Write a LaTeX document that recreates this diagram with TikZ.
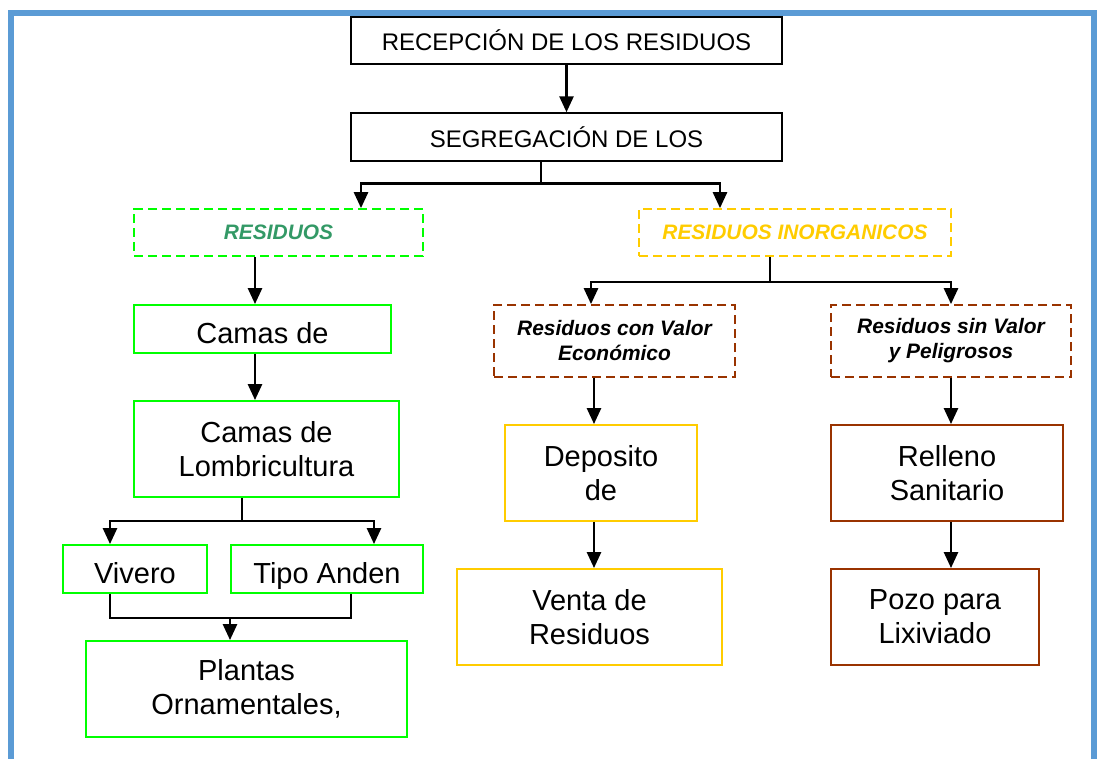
\documentclass[tikz,border=0pt]{standalone}
\usepackage{fontspec}
\setmainfont{Liberation Sans}
\usetikzlibrary{arrows.meta,calc}

\definecolor{frameblue}{RGB}{91,155,213}
\definecolor{limegreen}{RGB}{0,255,0}
\definecolor{seagreen}{RGB}{51,153,102}
\definecolor{goldline}{RGB}{255,204,0}
\definecolor{brownline}{RGB}{153,51,0}

\newcommand{\bigtxt}{\fontsize{21.75}{25.5}\selectfont}
\newcommand{\headtxt}{\fontsize{18}{21}\selectfont}
\newcommand{\grptxt}{\bfseries\itshape\fontsize{15.7}{18.75}\selectfont}

\begin{document}
\begin{tikzpicture}[
  x=0.75pt, y=-0.75pt,
  line/.style={-{Triangle[length=12pt,width=10.5pt]}, line width=2pt},
  frame/.style={draw=frameblue, line width=4.5pt, line join=miter},
  box/.style={draw, line width=1.1pt, align=center, inner sep=2pt, font=\bigtxt},
  onerow/.style={text height=21pt, text depth=0pt},
  headbox/.style={box, font=\headtxt},
  grpbox/.style={box, dash pattern=on 7pt off 3.5pt, line width=1.3pt, font=\grptxt},
  greenbox/.style={box, draw=limegreen, line width=1.4pt},
  goldbox/.style={box, draw=goldline, line width=1.4pt},
  brownbox/.style={box, draw=brownline, line width=1.4pt}
]
\useasboundingbox (0,0) rectangle (1104,758);
\clip (0,0) rectangle (1104,758);

% ---------------------------------------------------------------------------
% Outer frame (open at the bottom)
% ---------------------------------------------------------------------------
\draw[frame] (11,775) |- (1094,13) -- (1094,775);

% ---------------------------------------------------------------------------
% Top spine: reception and segregation
% ---------------------------------------------------------------------------
\node[headbox, minimum width=323.25pt, minimum height=35.25pt] (recep) at (566.5,40.5)
  {RECEPCIÓN DE LOS RESIDUOS};
\node[headbox, minimum width=323.25pt, minimum height=36pt] (seg) at (566.5,137)
  {SEGREGACIÓN DE LOS};

\node[grpbox, draw=limegreen, text=seagreen, minimum width=216.75pt, minimum height=35.25pt] (org) at (278.5,232.5)
  {RESIDUOS};
\node[grpbox, draw=goldline, text=goldline, minimum width=234pt, minimum height=35.25pt] (inorg) at (795,232.5)
  {RESIDUOS INORGANICOS};

% ---------------------------------------------------------------------------
% Left branch: organic waste
% ---------------------------------------------------------------------------
\node[greenbox, onerow, minimum width=192.75pt, minimum height=36pt] (camasA) at (262.5,329) {Camas de};
\node[greenbox, minimum width=198.75pt, minimum height=72pt] (camasB) at (266.5,449)
  {Camas de\\Lombricultura};
\node[greenbox, onerow, minimum width=108pt, minimum height=36pt] (vivero) at (135,569) {Vivero};
\node[greenbox, onerow, minimum width=144pt, minimum height=36pt] (anden) at (327,569) {Tipo Anden};
\node[greenbox, minimum width=240.75pt, minimum height=72pt] (plantas) at (246.5,689)
  {Plantas\\Ornamentales,};

% ---------------------------------------------------------------------------
% Right branch: inorganic waste
% ---------------------------------------------------------------------------
\node[grpbox, draw=brownline, minimum width=180.75pt, minimum height=54pt] (conval) at (614.5,341)
  {Residuos con Valor\\Económico};
\node[grpbox, draw=brownline, minimum width=180pt, minimum height=54pt] (sinval) at (951,341)
  {Residuos sin Valor\\y Peligrosos};
\node[goldbox, minimum width=144pt, minimum height=72pt] (deposito) at (601,473) {Deposito\\de};
\node[goldbox, minimum width=198.75pt, minimum height=72pt] (venta) at (589.5,617) {Venta de\\Residuos};
\node[brownbox, minimum width=174pt, minimum height=72pt] (relleno) at (947,473) {Relleno\\Sanitario};
\node[brownbox, minimum width=156pt, minimum height=72pt] (pozo) at (935,617) {Pozo para\\Lixiviado};

% ---------------------------------------------------------------------------
% Arrows
% ---------------------------------------------------------------------------
\draw[line] (recep) -- (seg);

% split after segregation
\coordinate (segFork) at ($(seg.south)+(-25.5,22)$);
\draw[line] (seg.south -| segFork) -- (segFork) -| ($(org.north)+(82.5,0)$);
\draw[line] (segFork) -| ($(inorg.north)+(-75,0)$);

% organic chain
\draw[line] ($(org.south)+(-23.5,0)$) coordinate (orgOut) -- (orgOut |- camasA.north);
\draw[line] ($(camasA.south)+(-7.5,0)$) coordinate (camOut) -- (camOut |- camasB.north);
\coordinate (camFork) at ($(camasB.south)+(-24.5,23)$);
\draw[line] (camasB.south -| camFork) -- (camFork) -| ($(vivero.north)+(-25,0)$);
\draw[line] (camFork) -| ($(anden.north)+(47,0)$);

% both bed types feed the plants
\coordinate (joinL) at ($(vivero.south)+(-25,24)$);
\coordinate (joinR) at ($(anden.south)+(24,24)$);
\coordinate (plantIn) at ($(plantas.north)+(-16.5,0)$);
\draw[line width=2pt] (vivero.south -| joinL) -- (joinL) -- (joinR) -- (anden.south -| joinR);
\draw[line] (plantIn |- joinL) -- (plantIn);

% inorganic split
\coordinate (inFork) at ($(inorg.south)+(-25,25)$);
\draw[line] (inorg.south -| inFork) -- (inFork) -| ($(conval.north)+(-23.5,0)$);
\draw[line] (inFork) -| (sinval.north);

% valuable and hazardous chains
\draw[line] ($(conval.south)+(-20.5,0)$) coordinate (valOut) -- (valOut |- deposito.north);
\draw[line] (valOut |- deposito.south) -- (valOut |- venta.north);
\draw[line] (sinval.south) -- (sinval.south |- relleno.north);
\draw[line] (sinval.south |- relleno.south) -- (sinval.south |- pozo.north);

\end{tikzpicture}
\end{document}
